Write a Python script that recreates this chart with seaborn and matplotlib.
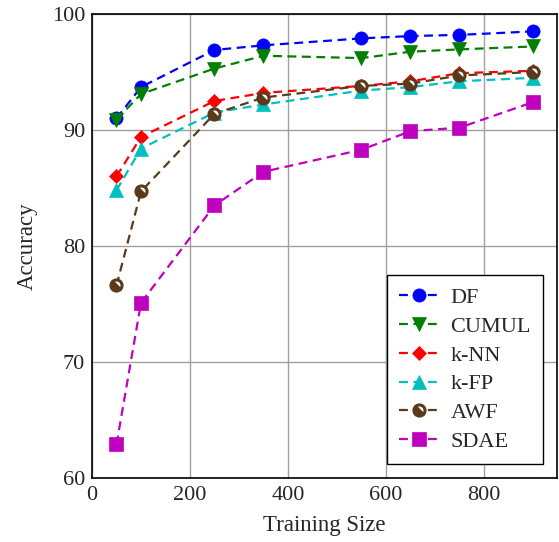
import matplotlib
matplotlib.use("Agg")
import matplotlib.pyplot as plt
from matplotlib.markers import MarkerStyle
from matplotlib.transforms import Affine2D
import seaborn as sns

sizes = [50, 100, 250, 350, 550, 650, 750, 900]
df_acc = [91.0, 93.7, 96.9, 97.3, 97.9, 98.1, 98.2, 98.5]
cumul_acc = [90.9, 93.1, 95.3, 96.4, 96.2, 96.75, 96.95, 97.2]
knn_acc = [86.0, 89.4, 92.5, 93.2, 93.8, 94.2, 94.9, 95.1]
kfp_acc = [84.8, 88.4, 91.5, 92.2, 93.4, 93.7, 94.2, 94.5]
awf_acc = [76.6, 84.7, 91.4, 92.8, 93.8, 94.0, 94.7, 95.0]
sdae_acc = [62.9, 75.1, 83.5, 86.4, 88.3, 89.9, 90.2, 92.4]

sns.set_style("white")
plt.rcParams["font.family"] = ["Liberation Serif", "DejaVu Serif"]

fig = plt.figure(figsize=(5.59, 5.42), dpi=100)
ax = fig.add_axes([92/559, (542-478)/542, 465/559, 464/542])

awf_marker = MarkerStyle("o", fillstyle="bottom", transform=Affine2D().rotate_deg(-45))

series = [
    ("DF", df_acc, "#0000ff", "o", 9.5),
    ("CUMUL", cumul_acc, "#008000", "v", 9.5),
    ("k-NN", knn_acc, "#ff0000", "D", 7),
    ("k-FP", kfp_acc, "#00bfbf", "^", 9.5),
    ("AWF", awf_acc, "#5a3a1a", awf_marker, 8),
    ("SDAE", sdae_acc, "#bf00bf", "s", 9.5),
]

for name, vals, col, mk, ms in series:
    if name == "AWF":
        extra = dict(markerfacecolor=col, markerfacecoloralt="white", markeredgewidth=2.2)
    else:
        extra = dict(markeredgewidth=0.5)
    sns.lineplot(x=sizes, y=vals, ax=ax, color=col, marker=mk, markersize=ms,
                 markeredgecolor=col, linewidth=1.6, linestyle=(0, (4, 2.5)),
                 label=name, **extra)

ax.set_xlim(0, 949)
ax.set_ylim(60, 100)
ax.set_xticks([0, 200, 400, 600, 800])
ax.set_yticks([60, 70, 80, 90, 100])
ax.grid(True, color="#a0a0a0", linewidth=1.0)
ax.tick_params(direction="in", length=4, color="#a0a0a0", labelsize=16, pad=5)
ax.tick_params(axis="x", pad=6)
for s in ax.spines.values():
    s.set_color("black")
    s.set_linewidth(1.2)
ax.set_xlabel("Training Size", fontsize=16.5, labelpad=7)
ax.set_ylabel("Accuracy", fontsize=16.5, labelpad=10)

leg = ax.legend(loc="lower right", bbox_to_anchor=(0.97, 0.03), borderaxespad=0,
                fontsize=16, frameon=True, fancybox=False, edgecolor="black",
                framealpha=1, handlelength=1.8, handletextpad=0.5,
                borderpad=0.55, labelspacing=0.37)
leg.get_frame().set_linewidth(1.0)

fig.savefig("out.png", dpi=100)
